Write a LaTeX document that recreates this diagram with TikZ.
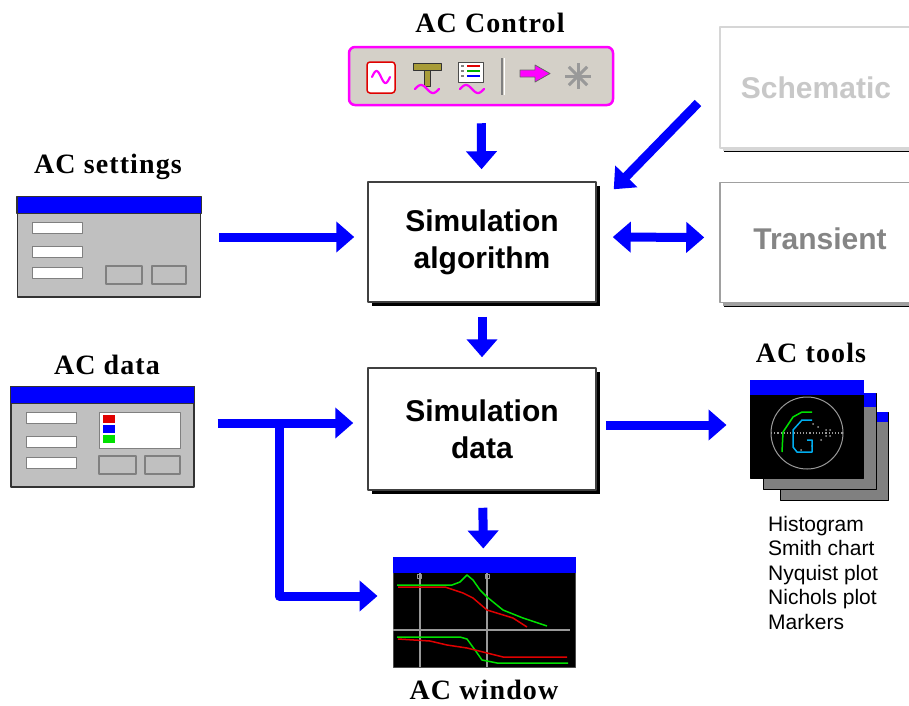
\documentclass[tikz,border=0pt]{standalone}
\usepackage{fontspec}
\setmainfont{Liberation Serif}
\setsansfont{Liberation Sans}
\newfontfamily\titlefont[LetterSpace=4]{Liberation Serif}
\usetikzlibrary{arrows.meta,shadows}
\definecolor{WinBlue}{HTML}{0000FF}
\definecolor{WinGray}{HTML}{C0C0C0}
\definecolor{BarGray}{HTML}{D4D0C8}
\definecolor{IconPink}{HTML}{FF00FF}
\definecolor{HammerTan}{HTML}{A89C38}
\definecolor{PlotGreen}{HTML}{00E000}
\definecolor{PlotRed}{HTML}{E00000}
\definecolor{FaintText}{HTML}{C8C8C8}
\definecolor{FaintEdge}{HTML}{D6D6D6}
\definecolor{DimText}{HTML}{858585}
\definecolor{DimEdge}{HTML}{A0A0A0}

\begin{document}
\begin{tikzpicture}[x=1pt,y=-1pt,line join=round,
  flow/.style={draw=WinBlue,line width=9pt,-{Triangle[width=30pt,length=18pt]}},
  twoway/.style={draw=WinBlue,line width=9pt,{Triangle[width=30pt,length=18pt]}-{Triangle[width=30pt,length=18pt]}},
  block/.style={draw=black!75,line width=1.5pt,fill=white,minimum width=228pt,minimum height=120pt,
    align=center,inner sep=0pt,font=\sffamily\bfseries\fontsize{30}{37}\selectfont,
    general shadow={fill=black,shadow xshift=4pt,shadow yshift=-4pt}},
  ghost/.style 2 args={block,draw=#1,text=#2,general shadow={fill=#1,shadow xshift=3pt,shadow yshift=-3pt}},
  title/.style={anchor=base,font=\titlefont\bfseries\fontsize{28}{30}\selectfont},
  dlg/.style={draw=black!80,line width=1.2pt,fill=WinGray,inner sep=0pt},
  field/.style={draw=gray,line width=1pt,fill=white},
  button/.style={draw=gray,line width=1.2pt,fill=WinGray},
  wave/.style={IconPink,line width=2.2pt,line cap=round}]
  \useasboundingbox (0,0) rectangle (909,705);
  \clip (0,0) rectangle (909,705);

  % toolbar
  \node[draw=IconPink,line width=2.5pt,fill=BarGray,rounded corners=6pt,
    minimum width=264pt,minimum height=58pt] (ctrl) at (481,76) {};
  \node[title] (ctrlT) at (490,32) {AC Control};
  \draw[PlotRed,line width=1.5pt,fill=white,rounded corners=3pt] (367,62) rectangle (395,93);
  \draw[wave] plot[domain=0:1,samples=25,smooth] ({372+18*\x},{77-6*sin(360*\x)});
  \filldraw[fill=HammerTan,draw=black!80,line width=.8pt] (424,70) rectangle (430,86);
  \filldraw[fill=HammerTan,draw=black!80,line width=.8pt] (413,63) rectangle (441,70);
  \draw[wave] plot[domain=0:1,samples=25,smooth] ({415+24*\x},{89-4*sin(360*\x)});
  \filldraw[fill=white,draw=black!70,line width=1pt] (458,62) rectangle (483,82);
  \foreach \yy/\cc in {66/PlotRed,71/green!70!black,76/WinBlue}{
    \draw[gray,line width=2pt] (461,\yy) -- (464,\yy);
    \draw[\cc,line width=2.5pt] (467,\yy) -- (480,\yy);
  }
  \draw[wave] plot[domain=0:1,samples=25,smooth] ({460+24*\x},{89-4*sin(360*\x)});
  \draw[gray,line width=1.5pt] (502,58) -- (502,95);
  \draw[white,line width=1pt] (504,58) -- (504,95);
  \filldraw[fill=IconPink,draw=black!60,line width=.8pt]
    (520,70) -- (535,70) -- (535,65) -- (550,73.5) -- (535,82) -- (535,77) -- (520,77) -- cycle;
  \foreach \a in {0,45,90,135}
    \draw[gray!80,line width=3pt] (578,76) +(\a:13) -- +(\a+180:13);

  % main blocks
  \node[block] (algo) at (482,242) {Simulation\\algorithm};
  \node[block,minimum height=122pt] (data) at (482,429) {Simulation\\data};
  \node[ghost={FaintEdge}{FaintText},minimum width=192pt,minimum height=121pt] (schem) at (816,87.5) {Schematic};
  \node[ghost={DimEdge}{DimText},minimum width=200pt] (trans) at (820,242.5) {\raisebox{7pt}{Transient}};

  % AC settings dialog
  \node[dlg,minimum width=183pt,minimum height=100pt] (set) at (109,247) {};
  \node[title] (setT) at (108,173) {AC settings};
  \draw[draw=black!80,line width=1.2pt,fill=WinBlue] (set.north west) rectangle ([yshift=-17pt]set.north east);
  \foreach \yy in {222,246,267}
    \draw[field] (32,\yy) rectangle (82,\yy+11);
  \draw[button] (106,266) rectangle (142,284);
  \draw[button] (152,266) rectangle (186,284);

  % AC data dialog
  \node[dlg,minimum width=183pt,minimum height=100pt] (dat) at (102.5,437) {};
  \node[title] (datT) at (107,374) {AC data};
  \draw[draw=black!80,line width=1.2pt,fill=WinBlue] (dat.north west) rectangle ([yshift=-17pt]dat.north east);
  \foreach \yy in {412,436,457}
    \draw[field] (26,\yy) rectangle (76,\yy+11);
  \draw[field] (99,412) rectangle (180,448);
  \fill[PlotRed] (103,415) rectangle (115,423);
  \fill[WinBlue] (103,425) rectangle (115,433);
  \fill[PlotGreen] (103,435) rectangle (115,443);
  \draw[button] (99,456) rectangle (136,474);
  \draw[button] (145,456) rectangle (180,474);

  % AC window
  \node[draw=black!70,line width=1pt,fill=black,minimum width=182pt,minimum height=110pt,inner sep=0pt] (win) at (484,612) {};
  \node[title] (winT) at (484,699) {AC window};
  \fill[WinBlue] (win.north west) rectangle ([yshift=-16pt]win.north east);
  \draw[gray!80,line width=1.5pt] (420,573) -- (420,667) (487,573) -- (487,667) (393,630) -- (570,630);
  \draw[gray!80,line width=1pt] (417,574) rectangle (421,578) (485,574) rectangle (489,578);
  \draw[PlotGreen,line width=1.5pt] plot coordinates {(397,585) (452,585) (460,582) (467,575) (473,580) (480,590) (487,597) (503,610) (523,618) (547,626)};
  \draw[PlotRed,line width=1.5pt] plot coordinates {(398,587) (445,587) (463,593) (473,598) (487,610) (513,618) (527,627)};
  \draw[PlotGreen,line width=1.5pt] plot coordinates {(397,637) (460,637) (467,639) (475,650) (482,660) (497,663) (568,663)};
  \draw[PlotRed,line width=1.5pt] plot coordinates {(398,639) (430,641) (447,645) (467,648) (487,653) (503,657) (567,657)};

  % AC tools stack
  \filldraw[fill=gray,draw=black,line width=1pt] (780,412) rectangle (888,500);
  \fill[WinBlue] (780,412) rectangle (888,422);
  \filldraw[fill=gray,draw=black,line width=1pt] (763,393) rectangle (876,489);
  \fill[WinBlue] (763,393) rectangle (876,407);
  \node[draw=black,line width=1pt,fill=black,minimum width=113pt,minimum height=98pt,inner sep=0pt] (tools) at (806.5,429) {};
  \fill[WinBlue] (tools.north west) rectangle ([yshift=-15pt]tools.north east);
  \node[title] (toolsT) at (811,362) {AC tools};
  \draw[gray!80,line width=1pt] (807,433) circle (36);
  \draw[gray!80,line width=1.2pt,dotted] (771,433) -- (843,433);
  \foreach \px/\py in {813/424,818/427,821/440,826/430,826/436,830/430,830/436,801/450,812/446}
    \fill[gray!80] (\px,\py) circle (1);
  \draw[PlotGreen,line width=1.5pt] plot coordinates {(782,452) (783,432) (793,417) (802,412) (812,412)};
  \draw[cyan,line width=1.5pt] plot coordinates {(812,420) (802,420) (793,430) (793,447) (797,452) (812,452) (812,440) (807,440)};
  \node[anchor=north west,inner sep=0pt,align=left,font=\sffamily\fontsize{21}{24.5}\selectfont] (toolList) at (768,516)
    {Histogram\\Smith chart\\Nyquist plot\\Nichols plot\\Markers};

  % connectors
  \coordinate (schemOut) at (698,103);
  \coordinate (split) at (279,423);
  \draw[flow,shorten <=17pt,shorten >=12pt] (ctrl) -- (algo);
  \draw[flow,shorten <=14pt,shorten >=10pt] (algo) -- (data);
  \draw[flow,shorten <=17pt,shorten >=8pt] (data) -- (win);
  \draw[flow,shorten <=18pt,shorten >=13pt] ([yshift=10pt]set.east) -- ([yshift=5pt]algo.west);
  \draw[flow] (schemOut) -- ([shift={(17pt,-8pt)}]algo.north east);
  \draw[twoway,shorten <=16pt,shorten >=15pt] ([yshift=5pt]algo.east) -- ([yshift=5pt]trans.west);
  \draw[flow,shorten <=23pt,shorten >=14pt] ([yshift=14pt]dat.east) -- ([yshift=6pt]data.west);
  \draw[flow,shorten >=15pt] (split) |- ([yshift=16pt]win.west);
  \draw[flow,shorten <=9pt,shorten >=23pt] ([yshift=4pt]data.east) -- ([yshift=4pt]tools.west);
\end{tikzpicture}
\end{document}
